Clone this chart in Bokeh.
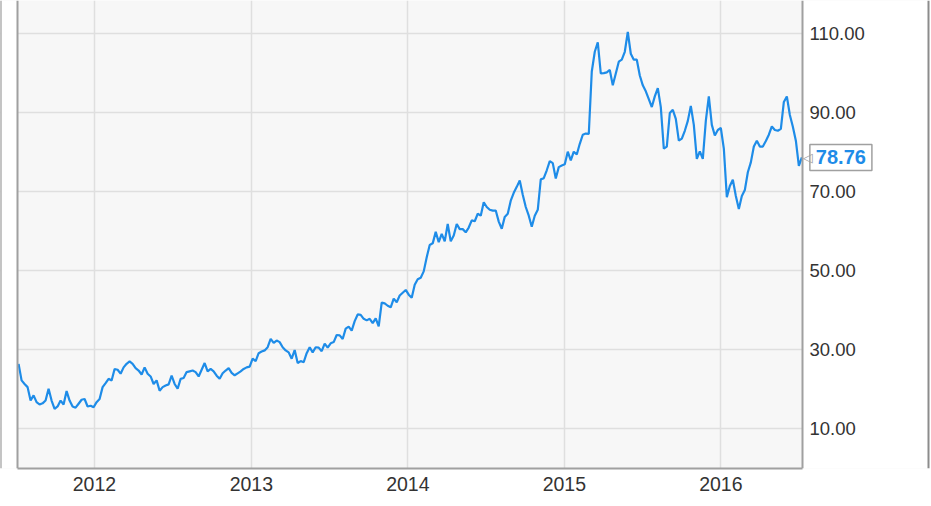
import pandas as pd
from bokeh.plotting import figure
from bokeh.models import (FixedTicker, DatetimeTickFormatter, Label, Range1d,
                          Span, BoxAnnotation, ColumnDataSource)
from bokeh.core.properties import value
from bokeh.embed import file_html
from bokeh.resources import INLINE

# ---- data (weekly closing prices) ----
start_date = "2011-07-08"
prices = [
    26.5, 22.3, 21.4, 20.6, 17.2, 18.5, 16.8, 16.2, 16.5, 17.2,
    20.2, 17.2, 15.1, 15.7, 17.2, 16.2, 19.6, 17.2, 15.7, 15.4,
    16.4, 17.4, 17.6, 15.7, 15.9, 15.5, 16.8, 17.6, 20.6, 21.6,
    22.7, 22.3, 25.2, 25.0, 24.0, 25.6, 26.5, 27.1, 26.5, 25.4,
    24.8, 23.8, 25.6, 24.0, 23.3, 21.4, 22.3, 19.7, 20.6, 21.0,
    21.3, 23.5, 21.4, 20.2, 22.7, 22.9, 24.4, 24.6, 24.8, 24.4,
    23.3, 25.0, 26.7, 24.6, 25.2, 24.6, 23.5, 22.7, 24.1, 24.8,
    25.4, 24.2, 23.6, 24.1, 24.6, 25.2, 25.6, 25.8, 27.8, 27.2,
    29.2, 29.6, 29.9, 30.7, 32.8, 31.8, 32.4, 32.0, 30.7, 29.9,
    29.4, 27.8, 30.0, 26.7, 27.2, 26.9, 29.2, 30.7, 29.4, 30.7,
    30.6, 29.7, 31.6, 30.6, 31.7, 32.0, 33.8, 33.7, 32.8, 35.4,
    35.9, 34.9, 37.3, 39.0, 38.9, 37.9, 37.5, 37.9, 36.8, 38.0,
    36.0, 42.0, 41.8, 41.2, 40.8, 43.0, 42.1, 43.8, 44.5, 45.2,
    44.0, 43.2, 46.5, 47.9, 48.3, 49.9, 53.5, 56.6, 57.0, 59.9,
    57.3, 59.4, 57.5, 61.9, 57.5, 59.0, 61.9, 60.6, 60.6, 59.8,
    61.0, 62.8, 62.6, 64.5, 64.0, 67.4, 66.2, 65.5, 65.3, 65.3,
    62.5, 60.7, 63.7, 64.5, 67.8, 69.8, 71.3, 72.9, 69.3, 66.2,
    64.0, 61.2, 64.0, 65.5, 73.2, 73.5, 75.5, 77.8, 77.3, 73.4,
    76.3, 76.7, 77.0, 80.2, 78.0, 80.2, 79.5, 82.2, 84.5, 84.8,
    84.7, 100.5, 105.5, 107.9, 100.0, 100.1, 100.3, 100.9, 97.0, 100.0,
    103.0, 103.5, 105.5, 110.5, 105.0, 103.5, 103.5, 99.5, 97.0, 95.5,
    93.5, 91.5, 94.2, 96.3, 91.5, 81.0, 81.5, 90.0, 90.8, 88.5,
    83.0, 83.5, 85.5, 88.0, 91.8, 87.0, 78.4, 80.3, 78.4, 88.0,
    94.2, 87.0, 84.3, 85.7, 86.2, 81.0, 68.7, 71.5, 73.1, 69.0,
    65.7, 69.0, 70.5, 75.0, 77.5, 81.5, 83.0, 81.5, 81.5, 82.9,
    84.5, 86.6, 85.7, 85.5, 86.0, 92.8, 94.2, 89.5, 86.5, 83.0,
    76.6, 78.76,
]
year_ticks = [2012, 2013, 2014, 2015, 2016]
price_ticks = [10, 30, 50, 70, 90, 110]
x_start = "2011-07-05 12:00"
x_end = "2016-07-09 12:00"
y_start, y_end = 0, 118.48

dates = pd.date_range(start_date, periods=len(prices), freq="7D")

BLUE = "#1e8ce8"
GRID = "#dfdfdf"
FRAME = "#a0a0a0"
TXT = "#333333"
FONT = "Liberation Sans"

LEFT_W = 17      # white strip left of the chart area
PLOT_W = 785     # width of the chart area
SIDE_W = 128     # room on the right for the price scale


def ms(ts):
    return pd.Timestamp(ts).timestamp() * 1000.0


x0, x1 = ms(x_start), ms(x_end)
per_px = (x1 - x0) / PLOT_W
x0_full = x0 - per_px * LEFT_W
x1_full = x1 + per_px * SIDE_W

p = figure(x_axis_type="datetime",
           frame_width=LEFT_W + PLOT_W + SIDE_W, frame_height=468,
           min_border_left=0, min_border_right=0,
           min_border_top=0, min_border_bottom=30,
           x_range=Range1d(x0_full, x1_full),
           y_range=Range1d(y_start, y_end),
           background_fill_color="#f7f7f7", border_fill_color="white",
           outline_line_color=None,
           output_backend="svg", toolbar_location=None)

p.yaxis.visible = False

# x axis
p.xaxis.ticker = FixedTicker(ticks=[ms(f"{y}-01-01") for y in year_ticks])
p.xaxis.formatter = DatetimeTickFormatter(years="%Y", months="%Y", days="%Y")
p.xaxis.bounds = (x0, x1)
p.xaxis.major_tick_line_color = None
p.xaxis.minor_tick_line_color = None
p.xaxis.major_tick_out = 0
p.xaxis.major_label_standoff = 8
p.xaxis.major_label_text_font = FONT
p.xaxis.major_label_text_font_size = "19.5px"
p.xaxis.major_label_text_color = TXT
p.xaxis.axis_line_color = FRAME
p.xaxis.axis_line_width = 2

p.xgrid.grid_line_color = GRID
p.xgrid.grid_line_width = 1.5
p.ygrid.ticker = FixedTicker(ticks=price_ticks)
p.ygrid.grid_line_color = GRID
p.ygrid.grid_line_width = 1.5

# white strips outside the chart area
p.add_layout(BoxAnnotation(left=x1, fill_color="white", fill_alpha=1.0,
                           line_color=None, level="underlay"))
p.add_layout(BoxAnnotation(right=x0, fill_color="white", fill_alpha=1.0,
                           line_color=None, level="underlay"))
# chart area edges and outer panel border
for loc in (x0, x1):
    p.add_layout(Span(location=loc, dimension="height", line_color=FRAME, line_width=2))
for loc in (x0_full, x1_full - per_px * 2):
    p.add_layout(Span(location=loc, dimension="height", line_color="#8c8c8c", line_width=2))

# price line
p.line(dates, prices, line_color=BLUE, line_width=2.2)

# price scale labels (right side)
scale_src = ColumnDataSource(dict(x=[x1] * len(price_ticks), y=price_ticks,
                                  t=[f"{v:.2f}" for v in price_ticks]))
p.text(x="x", y="y", text="t", source=scale_src, x_offset=7,
       text_font=value(FONT), text_font_size="18.5px", text_color=TXT,
       text_align="left", text_baseline="middle")

# last value callout
last_x = ms(dates[-1])
last_y = prices[-1]
p.add_layout(Label(x=last_x, y=last_y, x_offset=8, y_offset=0,
                   text=f"{last_y:.2f}", text_font=FONT,
                   text_font_size="20px", text_font_style="bold",
                   text_color=BLUE, text_baseline="middle", text_align="left",
                   background_fill_color="white",
                   border_line_color=FRAME, border_line_width=1.5,
                   padding=6))
p.add_layout(Label(x=last_x, y=last_y, x_offset=1, y_offset=0,
                   text="\u25c1", text_font="DejaVu Sans",
                   text_font_size="13px", text_color=FRAME,
                   text_baseline="middle", text_align="left"))

open("out.html", "w").write(file_html(p, INLINE))
